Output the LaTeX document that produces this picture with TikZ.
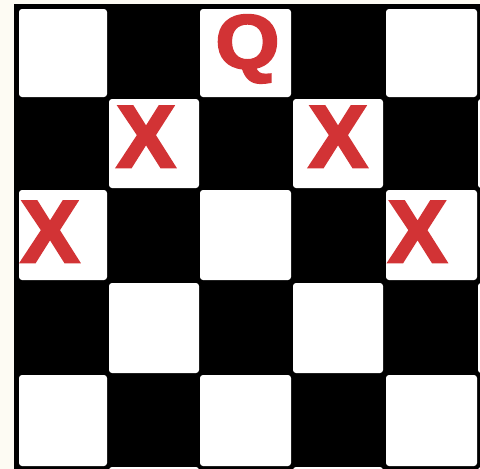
\documentclass[tikz,border=0pt]{standalone}
\usepackage{fontspec}
\newfontfamily\heavyfont{Liberation Sans}[FakeBold=3]
\definecolor{cream}{HTML}{FDFBF3}
\definecolor{markred}{HTML}{D23335}
\begin{document}
\begin{tikzpicture}[x=1pt,y=-1pt,
  sq/.style={fill=white, rounded corners=3pt},
  piece/.style={text=markred, inner sep=0pt, anchor=base},
  xmark/.style={piece, font=\heavyfont\bfseries\fontsize{88}{88}\selectfont, xscale=1.0},
  qmark/.style={piece, font=\heavyfont\bfseries\fontsize{76}{76}\selectfont, xscale=1.08}]
\useasboundingbox (0,0) rectangle (480,469);
\clip (0,0) rectangle (480,469);
\fill[cream] (0,0) rectangle (480,469);
\fill[black] (14,4) rectangle (490,480);
\foreach \l/\r [count=\i from 0] in {19/107,109/199,200/291,293/383,386/477,478/570} {
  \foreach \t/\b [count=\j from 0] in {9/97,99/188,190/280,283/373,375/466,467/560} {
    \pgfmathtruncatemacro\parity{mod(\i+\j,2)}
    \ifnum\parity=0
      \fill[sq] (\l,\t) rectangle (\r,\b);
    \fi
  }
}
\node[qmark] (q) at (247.5,68) {Q};
\node[xmark] (x1) at (146,167) {X};
\node[xmark] (x2) at (338,167) {X};
\node[xmark] (x3) at (50,262) {X};
\node[xmark] (x4) at (417.5,262) {X};
\end{tikzpicture}
\end{document}
